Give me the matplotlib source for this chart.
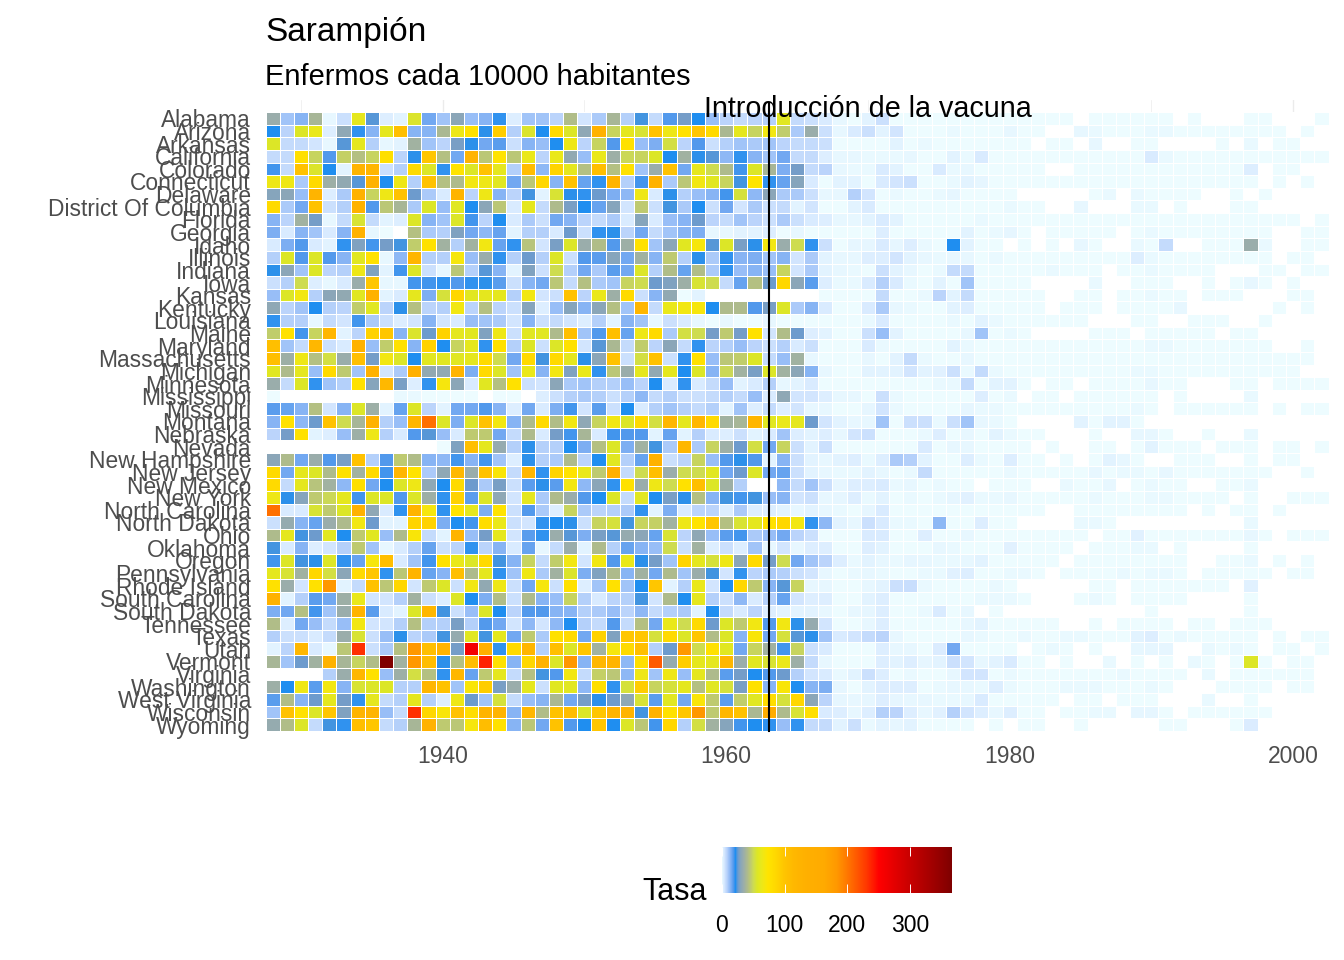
"""Mapa de calor de la tasa de sarampion por estado y anio."""
import matplotlib
matplotlib.use("Agg")
import matplotlib.pyplot as plt
import numpy as np
from matplotlib.colors import LinearSegmentedColormap, Normalize

N = np.nan  # sin dato, la celda queda en blanco

years = list(range(1928, 2003))
states = ["Alabama", "Arizona", "Arkansas", "California", "Colorado", "Connecticut", "Delaware",
          "District Of Columbia", "Florida", "Georgia", "Idaho", "Illinois", "Indiana", "Iowa",
          "Kansas", "Kentucky", "Louisiana", "Maine", "Maryland", "Massachusetts", "Michigan",
          "Minnesota", "Mississippi", "Missouri", "Montana", "Nebraska", "Nevada", "New Hampshire",
          "New Jersey", "New Mexico", "New York", "North Carolina", "North Dakota", "Ohio",
          "Oklahoma", "Oregon", "Pennsylvania", "Rhode Island", "South Carolina", "South Dakota",
          "Tennessee", "Texas", "Utah", "Vermont", "Virginia", "Washington", "West Virginia",
          "Wisconsin", "Wyoming"]

alabama = [36,12,15,40,2,7,62,26,4,3,57,17,12,32,13,15,22,4,12,12,9,
           43,6,11,40,10,25,8,20,28,23,13,9,8,9,10,60,8,7,5,2,1,
           3,7,1,1,1,1,1,1,1,1,1,1,1,1,1,N,1,1,1,1,1,1,N,1,N,N,N,1,1,N,N,N,1]
arizona = [23,9,58,64,4,33,22,15,62,108,15,15,41,66,78,24,95,10,57,23,85,
           58,33,130,50,62,56,105,66,78,100,85,41,62,50,68,48,11,36,7,2,5,
           7,3,6,1,1,1,1.5,1,1,1,2,1,1,N,N,2,1.5,1,1,1,1.5,1.5,1,1,1,1,1,1,1,1,N,1,N]
arkansas = [58,8,8,6,2,26,62,10,2,3,38,12,9,29,24,17,19,7,15,13,23,
            66,9,50,20,78,13,16,54,9,20,7,10,12,11,12,9,8,8,7,1,1,
            1,1,3,1,1.5,1,1,1,1,1,1,1,N,1,1,N,2,N,N,1,1,N,N,N,N,1,N,1.5,N,1,1,N,N]
california = [8,8,80,50,20,49,44,50,80,9,24,100,44,17,125,46,76,46,64,9,64,
              34,13,64,37,51,50,58,23,38,24,26,14,22,15,12,17,8,8,4,2,2,
              1.5,1.5,1.5,2,1,1,3,1.5,5,1,1,1,1,1,1,1,1,1,1,1,5,1.5,1,1,1,1,1,1,1,1,1,1,1]
colorado = [21,8,105,57,23,3,125,120,7,10,85,58,22,76,58,105,62,10,110,14,90,
            62,44,108,44,78,12,36,105,17,62,52,42,21,58,40,16,28,8,9,2,1.5,
            1.5,5,3,1,1,5,1.5,2,1,1,1,1,1,N,N,1,1,1,1,1,1,1,1,1,1,1,1,4,N,1,1,N,N]
connecticut = [66,66,11,85,37,34,26,130,23,66,10,105,44,42,68,66,60,17,46,88,15,
               105,18,22,125,10,21,130,11,46,68,60,50,25,75,22,18,31,5,1,3,3,
               1,5,6,7,1,1,1.5,3,2.5,1,1,1,1,1,1,1,1,1,1,1,1,1,1,1,1,1,1,1,N,1,N,1,N]
delaware = [31,32,13,125,4,11,130,50,66,105,27,11,5,125,9,66,15,9,25,3,56,
            24,22,27,16,14,66,5,24,10,13,15,21,55,14,32,11,11,7,2,2,10,
            6,1,1.5,1,1,1.5,2.5,1,1,1,1,N,N,N,N,N,1,1.5,N,1.5,1,1,1,1,N,N,1,N,1,N,N,N,N]
district_of_columbia = [85,11,17,105,7,10,130,20,46,40,11,58,13,60,23,32,46,5,62,8,42,
                        29,23,18,31,6,47,7,25,11,23,7,17,6,11,7,8,3,6,1,1,3,
                        5,1,1,1,1,1,1,1,1,1,1.5,1,1,N,N,2,N,N,N,1.5,1.5,N,1,N,N,N,1,1,N,N,N,N,N]
florida = [15,9,38,28,2,8,56,8,3,4,58,15,12,58,21,9,23,5,11,7,17,
           15,9,8,11,5,31,5,13,15,27,9,8,12,9,7,11,7,5,4,2,2,
           3,5,3,1,1,1,1,1,1.5,1,1,1,1,1,1,1,1,1,1,1,1,1,1,1,1,1,1,1,1,1,1,N,1]
georgia = [16,5,15,12,5,15,130,2,1,N,44,11,10,30,17,14,18,3,10,10,5,
           27,7,22,24,9,17,8,12,15,16,2,2,3,3,4,1,2,1,1,1,1,
           1,4,1,1,1,1,1,3,1,1.5,2.5,1,N,1,1,1,1,1,N,1,1.5,1,1,1,1,1,1,1,1,N,N,1,1]
idaho = [5,16,20,5,3,22,30,21,28,25,48,78,38,10,38,68,18,22,45,6,29,
         58,36,43,20,37,78,12,32,60,70,26,58,29,24,68,36,52,22,7,1,2.5,
         2.5,5,2.5,4,1.5,1,23,3,1,1,N,1,N,1,N,2,1,N,N,1.5,1,8,N,N,1,1,1,36,1.5,N,N,1,1]
illinois = [10,58,20,58,20,15,60,78,2,14,120,10,10,70,13,36,22,10,27,10,58,
            7,20,19,31,17,38,15,47,10,24,11,22,15,16,12,15,6,11,3,2,2,
            4,4,6,3,2,1.5,2,2,1,1.5,1,1,1,1,1,1,1,1,1,4,1.5,1,1,1,1,1,1,1,1,N,1,1,N]
indiana = [24,32,12,58,9,10,66,30,3,21,58,7,2,46,10,26,15,3,30,7,52,
           10,17,11,19,17,58,10,43,18,43,11,22,13,15,13,50,6,11,3,2,1.5,
           1,7,3,2,1,1.5,8,8,1,1,1,1,1,1.5,1,1,1,N,1,1,1.5,1,1,1,1,N,N,N,1,1,N,1,1]
iowa = [7,10,52,4,2,5,36,100,2,2,21,21,22,20,22,24,19,7,15,17,46,
        8,44,11,12,50,52,27,30,37,56,52,8,18,44,27,88,32,19,4,1.5,1.5,
        5,10,5,1.5,1,3,1,12,1,1,1,1,N,N,N,N,1.5,N,N,1,1,1,N,N,1,N,1,2,1,N,1,N,N]
kansas = [13,58,68,10,32,34,60,130,3,5,62,16,55,88,60,62,62,10,68,6,7,
          105,9,64,37,85,7,15,34,1,3,N,N,N,N,N,N,N,N,1,1,1,
          1,8,1,1,1.5,9,3,8,1,1,1,1,1,N,N,1,1,N,1,1,1.5,1,1,N,1,1,1,N,N,N,1,1,N]
kentucky = [33,9,12,23,10,9,48,60,9,24,44,9,10,68,9,44,9,7,31,4,13,
            31,15,32,44,12,120,8,64,68,70,23,42,42,20,29,58,11,15,5,1,1,
            5,11,2,1.5,1,1,3,4,1,1,1,1,1,N,1,1,1,N,1,1,1,1,2,N,N,N,N,N,N,1,N,1,N]
louisiana = [22,10,10,2,8,6,21,11,7,4,6,15,6,5,13,12,11,6,15,7,8,
             6,4,10,3,15,12,2,7,5,2,1,2,1,1,2,1,1,1,1,1,1,
             1.5,5,1,1,1,1,1.5,1,3,1.5,1,1,1,1,1,1,N,N,N,1,1,N,N,1,1,1,N,N,1,N,N,N,N]
maine = [48,78,21,50,120,3,9,92,100,15,57,27,92,62,60,30,66,7,60,60,42,
         108,12,20,108,18,66,85,11,54,52,28,47,28,78,6,43,27,4,3,1,1,
         7,13,3,1,1,1,1,2,12,1,1.5,1,N,N,N,N,1,1,1,N,1,1,1,1,1,N,1,1,N,N,N,N,N]
maryland = [108,12,8,118,7,5,130,13,48,78,15,92,23,50,62,22,78,10,58,7,58,
            78,6,26,41,8,48,9,32,8,22,9,10,13,9,7,10,5,7,1,1,1,
            5,1.5,1,1,1,1,3,1.5,1,1,1,1,1,1,1,1,1,1,1,1,1.5,1.5,1,1,1,1,1,1,1,N,N,1,N]
massachusetts = [108,37,66,44,54,36,108,28,68,58,23,60,60,60,62,85,52,17,85,25,85,
                 62,24,32,105,7,54,105,7,22,78,13,46,48,58,8,13,38,2,1,1,1,
                 2,1,3,8,1.5,1,1,2,1,1,1,1,1,1,1,1,1,1,1,1,1,1,1,1,1,1,1,1,1,1,1,1,N]
michigan = [60,42,62,13,85,47,12,130,6,11,135,34,34,125,16,85,58,12,64,15,68,
            30,64,22,46,36,62,34,62,23,58,15,51,38,29,58,38,32,15,2,1,1,
            3,3,3,6,3,3.5,7,1.5,8,1.5,1,1,1,1,1,1,1,1,1,1.5,1.5,1,1,1,1,1,1,1,1,1,1,N,N]
minnesota = [36,8,58,22,12,10,78,31,115,29,4,22,70,32,5,60,44,78,7,6,32,
             11,12,10,10,13,9,23,5,22,5,8,13,3,5,10,2,3,5,1,1,1,
             1,1,1,1,1,1.5,1.5,8,1,3,3,1,N,1,1,N,1,1,1,1,2,1,1,N,N,N,1,1,N,1,1,1,1]
mississippi = [1,N,N,N,N,N,N,N,N,1.5,1.5,1,1,1,1,N,1,1,N,4,7,
               10,11,10,7,10,14,8,10,7,7,8,10,8,13,5,33,6,6,4,2,2,
               1,7,1.5,1,1,1,1,1,4,1,1.5,N,1,1,N,1,1,1,1,1,1,N,1,N,N,N,N,1.5,N,N,N,N,N]
missouri = [19,18,15,44,6,15,58,37,3,18,58,9,3,17,17,20,15,4,17,5,16,
            21,6,19,7,23,5,10,12,10,8,10,3,12,4,8,4,6,2,2,1,1,
            2.5,6,1.5,1,1,1,1,2.5,1.5,1.5,1,1,1,1,1,1,1,1,1,1.5,1,N,1,1,1,1,1,1,N,1,N,1,1]
montana = [15,78,14,27,105,52,40,130,10,13,120,205,58,16,58,105,68,15,42,85,43,
           68,33,50,68,58,85,54,118,62,118,85,38,40,120,60,64,62,27,6,3,2,
           2,12,1,7,7,1.5,7,12,2,1.5,1,N,N,N,N,3,1,3,3,1,N,N,N,N,N,N,N,N,N,N,N,N,N]
nebraska = [9,28,78,3,4,13,37,66,10,5,20,26,13,5,47,47,17,8,42,5,28,
            21,40,5,21,20,20,3,18,3,10,5,4,7,3,5,12,4,3,4,2,6,
            7,1,1,1,1.5,4,1,2,1,3,1.5,1,1,N,N,N,1,N,N,2,2,1,N,N,1,N,N,1.5,N,N,N,N,N]
nevada = [N,N,N,N,N,N,N,N,N,N,N,N,1,30,108,62,35,10,24,10,10,
          23,16,44,58,16,38,25,11,118,11,50,37,27,54,17,50,7,3,7,1,1,
          1,1,1,1,5,1,2,2,1,1,1,1,N,1,N,N,1,1,N,1,3,1,1,1,N,1,1,1,N,1,1,N,1]
new_hampshire = [32,42,17,36,20,29,105,10,20,47,43,15,14,21,15,21,12,4,24,10,11,
                 42,9,23,60,10,18,130,7,9,50,13,20,24,20,3,15,7,3,2,3,4,
                 1.5,4,11,10,3,1,1,4,1.5,1,4,1,1,N,1,N,1,3,2,1,N,N,1,1,1,N,N,1,N,1,1,N,N]
new_jersey = [85,17,62,58,42,78,38,85,21,120,76,11,33,115,36,105,72,8,120,22,90,
              76,64,47,135,8,52,108,36,52,52,60,17,27,58,17,18,7,3,2,1.5,1.5,
              3,2,1,1.5,8,1,1,1,1,1,1.5,1,1,1,1,1,2,1,1.5,1.5,1,2,1,1,1,1,1,1,1,N,N,1,N]
new_mexico = [85,8,62,45,38,14,80,17,23,58,66,33,23,85,27,11,29,7,19,24,19,
              68,14,32,22,78,36,66,52,78,108,58,37,10,N,N,14,8,12,7,2.5,4,
              4,5,1.5,2,1,1.5,1,1,N,1,1,1,N,N,1.5,1,1,2,N,1,1.5,1,1,N,N,1,1,1.5,N,N,N,N,N]
new_york = [66,24,31,47,51,62,21,58,58,20,58,37,22,92,19,58,33,6,62,11,42,
            36,20,23,58,8,60,23,29,24,44,15,25,21,25,13,15,6,7,2,2.5,4,
            1.5,3,1,1.5,1,1.5,2.5,3.5,1.5,1.5,2,1,1,1,1,1,1.5,1,1,1,1.5,1.5,1,1,1,1,N,1,N,N,1,1,1]
north_carolina = [205,5,5,56,47,58,130,33,5,22,125,70,22,76,62,16,76,7,20,11,4,
                  50,11,9,10,11,22,3,16,5,9,9,4,11,4,4,3,2,3,2,1.5,1,
                  2.5,5,1,1,1,1,1,1,1,1,1,1,1,N,N,1,1,1,1,1,1,1,1,N,1,N,1,1,N,1,N,N,N]
north_dakota = [7,35,15,18,36,42,68,27,3,3,90,92,16,23,21,82,64,7,6,22,23,
                24,7,50,55,25,50,49,38,66,76,100,44,56,62,78,88,68,22,14,3,2,
                7,5,1.5,1.5,1,14,1,1,4,1,1,N,N,N,N,1.5,1.5,1,N,N,N,N,N,N,N,N,N,1.5,N,N,N,N,N]
ohio = [42,62,25,27,60,23,47,60,13,42,72,8,3,125,13,28,62,6,19,22,36,
        26,16,29,26,35,32,18,56,9,33,13,19,21,11,13,17,9,7,1,1,1,
        5,5,1,1,4,1,1,2,1,1,1,1,1,1,1,1,N,1,1,3.5,1,1,1,1,1,1,1,2,1,N,1,1,1]
oklahoma = [25,5,15,4,6,10,47,12,2,5,10,18,7,9,22,9,15,5,18,2,8,
            36,3,42,10,18,15,13,52,7,38,4,7,4,12,2,6,2,4,4,1,1,
            4,3,1,1,1,2,1.5,1,1,1,3.5,1,1,1,1,N,1,1,1,1.5,1.5,N,1,N,N,N,N,1,N,N,N,N,N]
oregon = [21,58,25,24,58,22,18,70,108,5,12,21,78,64,58,85,25,15,50,8,48,
          68,6,68,20,64,24,28,12,90,62,55,66,32,85,28,52,17,12,9,4,1.5,
          3,2,1.5,2.5,2,1.5,1.5,2,3,1,1,1,1,1,N,1,1,1,1,1,1,1,1,N,N,1,1,1.5,N,1,N,1,N]
pennsylvania = [62,56,38,88,54,32,85,100,22,46,125,18,15,108,42,62,22,12,66,11,38,
                57,16,30,42,15,38,17,42,12,36,25,6,22,9,11,10,7,6,2,1,1.5,
                2,1.5,1,1,1.5,1.5,3.5,4,1,1,1.5,1.5,1,N,1,1,1,1,1.5,1,1.5,1.5,1,N,1,1,1,1,1,N,1,1,N]
rhode_island = [78,36,6,78,185,3,8,105,46,88,6,47,58,7,68,34,66,7,17,70,7,
                78,4,12,78,12,23,100,3,10,64,6,23,88,47,15,26,50,2,2,1,1,
                2,3,7,7.5,1.5,1,1,1,1,1.5,1,N,N,N,N,N,1,1,N,1,1,1,1,1,1,1,N,3.5,N,N,N,N,N]
south_carolina = [130,3,10,19,17,37,64,6,6,10,38,7,4,58,23,16,43,7,42,15,13,
                  50,10,5,9,10,25,6,42,23,62,10,7,14,5,10,18,6,4,4,1,1,
                  3,4,1,1,1,1,1,1,1.5,1.5,1.5,1,N,N,N,1,1.5,1,N,1,1,1,1,N,N,N,N,1,N,N,N,N,N]
south_dakota = [16,17,44,21,12,36,125,19,5,3,58,118,25,7,13,58,23,9,20,20,15,
                15,10,11,13,9,14,8,10,11,3,23,8,5,9,4,3,3,3,2,1,2,
                2.5,4,1,1,1.5,5,1,2,N,1,N,N,N,N,N,N,N,N,N,N,1,N,N,N,N,N,N,1,N,N,N,N,N]
tennessee = [43,4,17,13,8,13,68,6,6,10,44,10,10,29,10,20,17,6,14,6,14,
             23,10,8,20,8,44,17,64,52,85,27,58,47,68,20,68,24,35,6,1,1,
             2,4,1,1,1,1,1,2,3,1,1,1,1,1,N,N,1,N,1,1,1,1,N,1,1,N,1,1,1,N,N,N,N]
texas = [10,7,7,5,8,36,56,7,13,24,9,11,25,35,60,25,62,17,47,11,78,
         85,17,92,30,100,100,55,85,58,100,43,58,15,72,17,55,26,24,12,5,6,
         8,9,2,1,1,1,1,2,1.5,1,1,1.5,1,1,1.5,1.5,1,1,1,3,4,1,1.5,1,1,1,1,1,N,1,N,1,1]
utah = [3,9,118,5,2,46,235,7,11,44,185,108,125,28,262,135,22,85,120,10,108,
        58,100,38,70,85,108,10,27,185,52,78,60,17,50,38,21,50,7,5,1,1,
        1,4,2,2,1,4.5,17,1,1,1,1,N,1,1.5,1,N,1,N,N,2,2.5,2.5,N,N,1.5,1,1.5,1,N,1,1,N,1]
vermont = [40,12,27,38,130,40,50,43,367,38,185,110,24,44,110,240,78,15,88,130,58,
           185,15,118,125,14,80,215,35,95,62,62,118,36,60,56,64,37,8,2,1,1,
           1,4,3,4,2.5,3,7,6,2,3,5,1,1,N,1,N,N,1.5,N,1,N,1,N,1.5,1,N,1,58,1,N,1,1,N]
virginia = [N,N,N,N,10,36,118,78,13,37,54,44,22,118,18,47,62,8,44,25,20,
            68,8,49,46,14,66,12,66,13,62,42,19,28,23,20,27,10,6,5,1.5,3,
            7,4,1,1.5,1,1,2,6,6,1,1.5,1,1,1,1,1,1,1,1.5,1,1,1,1,N,1.5,N,1,1,1,1,1,1,N]
washington = [37,23,66,19,68,15,56,58,58,10,10,120,105,12,72,95,29,36,62,7,60,
              60,14,80,22,55,95,50,55,62,44,60,55,29,78,15,72,23,15,16,2.5,1,
              3,4.5,4,4,1,1.5,2,2,1.5,4,1.5,1,1,1,1.5,1.5,1.5,1,1,1,1.5,1,N,N,N,1,1,1,1,N,1,1,N]
west_virginia = [19,43,15,27,62,28,22,62,8,10,62,10,4,66,27,12,55,8,13,15,41,
                 17,28,24,27,33,56,19,60,17,72,47,19,48,60,82,55,88,32,9,2.5,2,
                 2.5,4,2.5,2,2,1.5,1.5,2,5,1,1,1,1,1,N,1,1,N,1,1,1,N,N,N,1.5,N,N,1,N,N,N,N,N]
wisconsin = [12,105,78,58,100,30,125,125,13,8,235,88,72,105,82,125,125,15,118,43,105,
             110,58,100,125,125,25,130,78,100,185,47,118,105,41,150,42,56,80,5,4,2,
             4,10,9,4,2,3.5,10,6,4,2,4,1,1,N,1,1,1.5,1.5,N,2.5,2.5,1,N,1,1,1,1,1,1,N,N,N,N]
wyoming = [35,43,58,8,25,22,108,100,8,10,40,130,47,46,70,110,78,15,46,17,105,
           20,23,100,23,58,46,21,88,10,54,38,31,21,23,22,13,22,8,8,3,7,
           1.5,3,2.5,3,1,1,1,1,N,1,N,1,1,N,N,1,N,N,N,N,N,1,1,N,N,N,1,4.5,N,N,N,N,N]

rows = [alabama, arizona, arkansas, california, colorado, connecticut, delaware,
        district_of_columbia, florida, georgia, idaho, illinois, indiana, iowa, kansas, kentucky,
        louisiana, maine, maryland, massachusetts, michigan, minnesota, mississippi, missouri,
        montana, nebraska, nevada, new_hampshire, new_jersey, new_mexico, new_york, north_carolina,
        north_dakota, ohio, oklahoma, oregon, pennsylvania, rhode_island, south_carolina,
        south_dakota, tennessee, texas, utah, vermont, virginia, washington, west_virginia,
        wisconsin, wyoming]

x_ticks = [1940, 1960, 1980, 2000]
x_minor = [1930, 1950, 1970, 1990]
legend_ticks = [0, 100, 200, 300]
vaccine_year = 1963
rate_max = 367

color_values = [0, 4, 8, 12, 16, 20, 23, 27, 31, 36, 42, 47, 52, 58, 64, 68, 75, 88, 100, 115,
                135, 165, 185, 205, 232, 252, 367]
color_hex = ["#F0FFFF", "#DDEEFF", "#C3DAFC", "#A0C3F8", "#7BADF2", "#4F98EC", "#1E8EF0", "#6F9BCC",
             "#87A5BB", "#9AADAB", "#AEBB8C", "#BECA70", "#CEDC50", "#DDE625", "#EAE81A", "#F2E712",
             "#FFE400", "#FFD700", "#FFC600", "#FFB800", "#FFB000", "#FFAA00", "#FF9800", "#FF7000",
             "#FF3800", "#FF0000", "#800000"]

plt.rcParams["font.family"] = ["Liberation Sans", "DejaVu Sans"]

W, H = 1344, 960
LEFT, RIGHT, TOP, BOTTOM = 265.5, 1328.5, 100, 731   # panel en pixeles
ROW_H = 12.63
ROWS_TOP = 112


def axes_box(left, right, top, bottom):
    return [left / W, 1 - bottom / H, (right - left) / W, (bottom - top) / H]


cmap = LinearSegmentedColormap.from_list(
    "tasa", [(v / rate_max, c) for v, c in zip(color_values, color_hex)], N=1024)
cmap.set_bad("white")
norm = Normalize(0, rate_max)

fig = plt.figure(figsize=(W / 100, H / 100), dpi=100)
ax = fig.add_axes(axes_box(LEFT, RIGHT, TOP, BOTTOM))

rate = np.ma.masked_invalid(np.array(rows, dtype=float))
x_edges = np.arange(len(years) + 1) + years[0] - 0.5
y_edges = np.arange(len(states) + 1) - 0.5
mesh = ax.pcolormesh(x_edges, y_edges, rate, cmap=cmap, norm=norm,
                     edgecolors="white", linewidth=0.5, zorder=2)

ax.set_xlim(x_edges[0], x_edges[-1])
ax.set_ylim((BOTTOM - ROWS_TOP) / ROW_H - 0.5, (TOP - ROWS_TOP) / ROW_H - 0.5)
for side in ax.spines.values():
    side.set_visible(False)

ax.set_xticks(x_ticks)
ax.set_xticks(x_minor, minor=True)
ax.grid(True, axis="x", which="major", color="#EBEBEB", linewidth=1.0, zorder=0)
ax.grid(True, axis="x", which="minor", color="#EBEBEB", linewidth=0.5, zorder=0)
ax.set_axisbelow(True)
ax.set_yticks(range(len(states)))
ax.set_yticklabels(states)
ax.tick_params(axis="y", length=0, pad=10.5, labelsize=16.4, labelcolor="#4D4D4D")
ax.tick_params(axis="x", which="both", length=0, pad=10, labelsize=16.5, labelcolor="#4D4D4D")

ax.plot([vaccine_year, vaccine_year], [len(states) - 0.5, (103 - ROWS_TOP) / ROW_H - 0.5],
        color="black", linewidth=1.5, zorder=3, clip_on=False)
ax.text(1970, (109 - ROWS_TOP) / ROW_H - 0.5, "Introducción de la vacuna", ha="center", va="center",
        fontsize=20.7, color="black", zorder=4)

fig.text(265 / W, 1 - 32 / H, "Sarampión", fontsize=24, va="center", ha="left")
fig.text(265 / W, 1 - 77 / H, "Enfermos cada 10000 habitantes", fontsize=20.9, va="center", ha="left")

cax = fig.add_axes(axes_box(722, 952, 847, 893))
bar = fig.colorbar(mesh, cax=cax, orientation="horizontal", ticks=legend_ticks)
bar.outline.set_visible(False)
bar.solids.set_edgecolor("face")
cax.tick_params(axis="x", which="major", top=True, bottom=True, direction="in", length=6.5, width=0.7,
                color="white", pad=15, labelsize=16.5, labelcolor="black")
fig.text(707 / W, 1 - 892 / H, "Tasa", fontsize=22, ha="right", va="center")

fig.savefig("out.png", dpi=100)
